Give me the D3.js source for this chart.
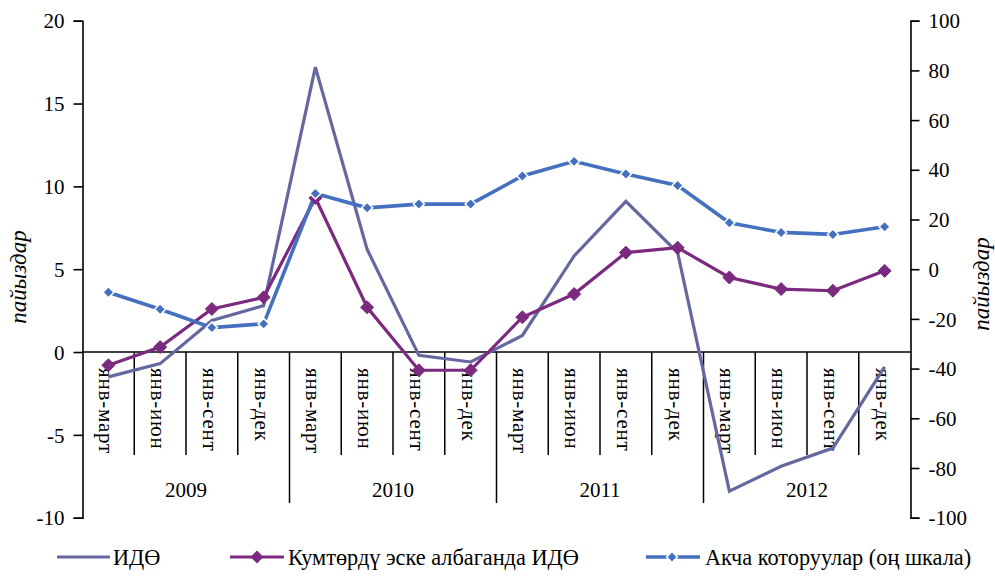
<!DOCTYPE html>
<html><head><meta charset="utf-8">
<script src="https://cdn.jsdelivr.net/npm/d3@7"></script>
<style>body{margin:0;background:#fff}svg{display:block}</style>
</head><body><svg id="c" width="995" height="577"></svg>
<script>
const years = ["2009","2010","2011","2012"];
const months = ["янв-март","янв-июн","янв-сент","янв-дек"];
const categories = years.flatMap(y => months.map(m => y + "|" + m));
const gdp = [-1.5,-0.7,1.9,2.8, 17.2,6.2,-0.2,-0.6, 1.0,5.8,9.1,6.0, -8.4,-6.9,-5.8,-0.9];
const gdpExKumtor = [-0.8,0.3,2.6,3.3, 9.3,2.7,-1.1,-1.1, 2.1,3.5,6.0,6.3, 4.5,3.8,3.7,4.9];
const remittances = [-9.3,-16.1,-23.5,-22.0, 30.5,24.7,26.2,26.2, 37.5,43.4,38.3,33.7, 18.7,14.8,14.0,17.1];
const leftTicks = [-10,-5,0,5,10,15,20];
const rightTicks = [-100,-80,-60,-40,-20,0,20,40,60,80,100];
const seriesNames = ["ИДӨ","Кумтөрдү эске албаганда ИДӨ","Акча которуулар (оң шкала)"];
const axisTitle = "пайыздар";

const FF = '"Liberation Serif","Times New Roman",serif';
const svg = d3.select("#c");
const L = 82.5, R = 910.5, T = 20.7, B = 517.7;
const x = d3.scaleBand().domain(categories).range([L, R]);
const yL = d3.scaleLinear().domain([-10,20]).range([B, T]);
const yR = d3.scaleLinear().domain([-100,100]).range([B, T]);
const cx = d => x(d) + x.bandwidth()/2;
const y0 = yL(0);

const cGdp = "#65679f", cEx = "#7b2a80", cRem = "#4570c0";

// axes
const gl = svg.append("g").attr("transform",`translate(${L},0)`)
  .call(d3.axisLeft(yL).tickValues(leftTicks).tickSize(9).tickPadding(9).tickFormat(d => String(d)));
const gr = svg.append("g").attr("transform",`translate(${R},0)`)
  .call(d3.axisRight(yR).tickValues(rightTicks).tickSize(9).tickPadding(9).tickFormat(d => String(d)));
[gl,gr].forEach(g=>{
  g.attr("font-family",null).attr("font-size",null);
  g.select(".domain").attr("stroke","#000").attr("stroke-width",1.6);
  g.selectAll(".tick line").attr("stroke","#000").attr("stroke-width",1.6);
  g.selectAll(".tick text").style("font-family",FF).style("font-size","21px").attr("fill","#000").attr("dy","0.34em");
});

// category axis at y=0
svg.append("line").attr("x1",L).attr("x2",R).attr("y1",y0).attr("y2",y0).attr("stroke","#000").attr("stroke-width",1.5);
categories.forEach((c,i)=>{
  if(i===0) return;
  const xx = x(c);
  const yearB = i % 4 === 0;
  svg.append("line").attr("x1",xx).attr("x2",xx).attr("y1",y0).attr("y2", yearB ? 503 : 455)
    .attr("stroke","#000").attr("stroke-width",1.5);
});
categories.forEach(c=>{
  const m = c.split("|")[1];
  svg.append("text").attr("transform",`translate(${cx(c)-9},368) rotate(90)`)
    .style("font-family",FF).style("font-size","21px").style("letter-spacing","0.8px").text(m);
});
years.forEach((yv,i)=>{
  const c0 = categories[i*4], c3 = categories[i*4+3];
  const mx = (x(c0) + x(c3) + x.bandwidth())/2;
  svg.append("text").attr("x",mx).attr("y",497).attr("text-anchor","middle")
    .style("font-family",FF).style("font-size","21px").text(yv);
});

// axis titles
svg.append("text").attr("transform",`translate(26,277) rotate(-90)`).attr("text-anchor","middle")
  .style("font-family",FF).style("font-size","23px").style("font-style","italic").text(axisTitle);
svg.append("text").attr("transform",`translate(989,284) rotate(-90)`).attr("text-anchor","middle")
  .style("font-family",FF).style("font-size","23px").style("font-style","italic").text(axisTitle);

// lines
const lineL = d3.line().x((d,i)=>cx(categories[i])).y(d=>yL(d));
const lineR = d3.line().x((d,i)=>cx(categories[i])).y(d=>yR(d));
svg.append("path").attr("d",lineL(gdp)).attr("fill","none").attr("stroke",cGdp).attr("stroke-width",3.2);
svg.append("path").attr("d",lineL(gdpExKumtor)).attr("fill","none").attr("stroke",cEx).attr("stroke-width",3.2);
svg.append("path").attr("d",lineR(remittances)).attr("fill","none").attr("stroke",cRem).attr("stroke-width",3.6);

const diamond = s => `M0,${-s}L${s},0L0,${s}L${-s},0Z`;
svg.append("g").selectAll("path").data(gdpExKumtor).join("path")
  .attr("transform",(d,i)=>`translate(${cx(categories[i])},${yL(d)})`)
  .attr("d",diamond(6.5)).attr("fill",cEx).attr("stroke",cEx).attr("stroke-width",1);
svg.append("g").selectAll("path").data(remittances).join("path")
  .attr("transform",(d,i)=>`translate(${cx(categories[i])},${yR(d)})`)
  .attr("d",diamond(5.5)).attr("fill",cRem).attr("stroke","#fff").attr("stroke-width",1.5);

// legend
const ly = 557;
const lg = svg.append("g");
const legText = (xx, t) => lg.append("text").attr("x",xx).attr("y",ly+7.5)
  .style("font-family",FF).style("font-size","22.3px").text(t);
lg.append("line").attr("x1",57).attr("x2",110).attr("y1",ly).attr("y2",ly).attr("stroke",cGdp).attr("stroke-width",3.2);
legText(113, seriesNames[0]);
lg.append("line").attr("x1",230).attr("x2",284).attr("y1",ly).attr("y2",ly).attr("stroke",cEx).attr("stroke-width",3.2);
lg.append("path").attr("transform",`translate(257,${ly})`).attr("d",diamond(6.5)).attr("fill",cEx);
legText(288, seriesNames[1]);
lg.append("line").attr("x1",646).attr("x2",700).attr("y1",ly).attr("y2",ly).attr("stroke",cRem).attr("stroke-width",3.6);
lg.append("path").attr("transform",`translate(672,${ly})`).attr("d",diamond(5.5)).attr("fill",cRem).attr("stroke","#fff").attr("stroke-width",1.5);
legText(705, seriesNames[2]);
</script></body></html>
